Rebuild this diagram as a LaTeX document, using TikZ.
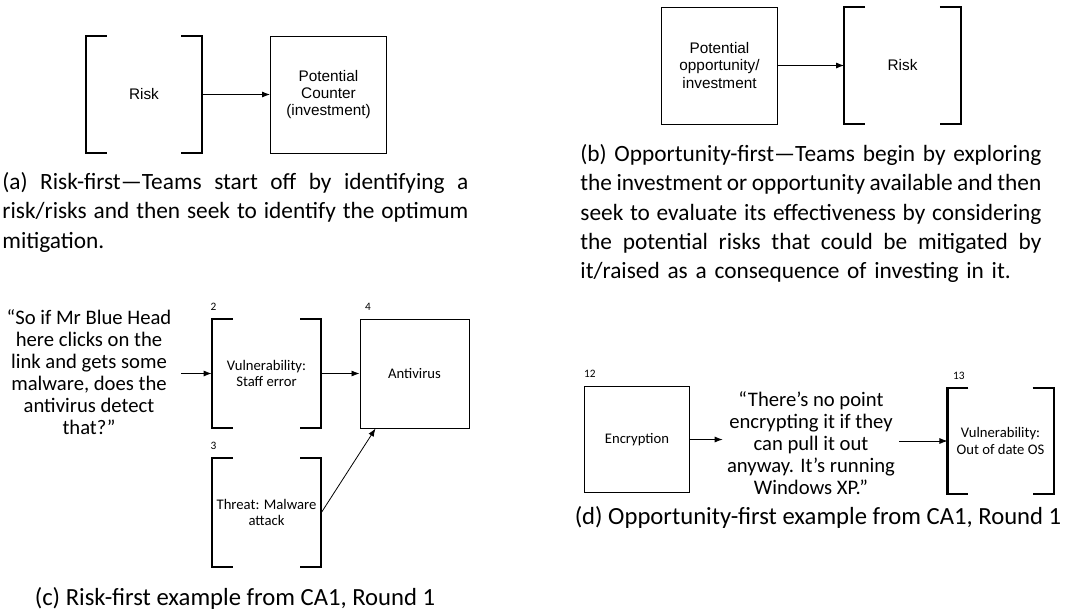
\documentclass[tikz,border=0pt]{standalone}
\usepackage{fontspec}
\setmainfont{Carlito}
\newfontfamily\helv{Liberation Sans}
\usetikzlibrary{arrows.meta,positioning,calc}
% one justified caption line, normal or tight spacing
\newcommand{\jline}[1]{\makebox[\hsize][s]{\spaceskip=.22em plus .6em minus .05em\relax #1}}
\newcommand{\jtight}[1]{\makebox[\hsize][s]{\spaceskip=.16em plus .6em minus .03em\relax #1}}

\begin{document}
\begin{tikzpicture}[x=0.75pt, y=-0.75pt, >={Latex[length=6pt,width=4.5pt]},
  line width=0.6pt,
  box/.style={draw, line width=0.75pt, inner sep=0pt, align=center},
  brkbox/.style={inner sep=0pt, align=center},
  brk/.style={line width=1.6pt},
  sqA/.style={minimum width=87pt, minimum height=87.75pt},
  sqC/.style={minimum width=81.75pt, minimum height=81.75pt},
  sqD/.style={minimum width=79pt, minimum height=79pt},
  helvlab/.style={font=\helv\fontsize{11.5}{13}\selectfont},
  lab/.style={font=\fontsize{11}{12.5}\selectfont},
  num/.style={font=\fontsize{8.5}{10}\selectfont, inner sep=0pt},
  quote/.style={align=center, inner sep=3pt, font=\fontsize{15.5}{16.5}\selectfont},
  caption/.style={inner sep=0pt, font=\fontsize{18.5}{22}\selectfont},
  justcap/.style={caption, anchor=north west, align=left, font=\fontsize{17.5}{22}\selectfont}]

\useasboundingbox (0,0) rectangle (1066,615);

% (a) risk-first
\node[brkbox, sqA, helvlab] (riskA) at (144,94.5) {Risk};
\node[box, sqA, helvlab] (counter) at (328.5,94.5) {Potential\\Counter\\(investment)};
\draw[->] (riskA) -- (counter);
\node[justcap, text width=349.5pt] (capA) at (2,172)
  {\jline{(a) Risk-first---Teams start off by identifying a}\\
   \jtight{risk/risks and then seek to identify the optimum}\\
   mitigation.};

% (b) opportunity-first
\node[box, sqA, helvlab] (opp) at (719.5,65.5) {Potential\\opportunity/\\investment};
\node[brkbox, sqA, helvlab] (riskB) at (902.5,65.5) {Risk};
\draw[->] (opp) -- (riskB);
\node[justcap, text width=345.75pt] (capB) at (580,144)
  {\jtight{(b) Opportunity-first---Teams begin by exploring}\\
   \jtight{the investment or opportunity available and then}\\
   \jtight{seek to evaluate its effectiveness by considering}\\
   \jline{the potential risks that could be mitigated by}\\
   it/raised as a consequence of investing in it.};

% (c) risk-first example
\node[quote] (blue) at (89,372) {“So if Mr Blue Head\\here clicks on the\\link and gets some\\malware, does the\\antivirus detect\\that?”};
\node[brkbox, sqC, lab] (vul) at (266.5,373.5) {Vulnerability:\\Staff error};
\node[box, sqC, lab] (av) at (414.5,373.5) {Antivirus};
\node[brkbox, sqC, lab] (thr) at (266.5,512.5) {Threat: Malware\\attack};
\node[num, above right=6pt and -1pt of vul.north west] {2};
\node[num, above right=6pt and 4pt of av.north west] {4};
\node[num, above right=6pt and -1pt of thr.north west] {3};
\draw[->] ([xshift=4pt]blue.east |- vul.west) -- (vul.west);
\draw[->] (vul) -- (av);
\draw[->] (thr.east) -- ([xshift=12pt]av.south west);
\node[caption] (capC) at (235,598) {(c) Risk-first example from CA1, Round 1};

% (d) opportunity-first example
\node[box, sqD, lab] (enc) at (637,439.5) {Encryption};
\node[quote] (xp) at (811,443) {“There’s no point\\encrypting it if they\\can pull it out\\anyway. It’s running\\Windows XP.”};
\node[brkbox, sqD, lab] (vulos) at (1000.5,441) {Vulnerability:\\Out of date OS};
\node[num, above right=6pt and 0pt of enc.north west] {12};
\node[num, above right=6pt and 4pt of vulos.north west] {13};
\draw[->] (enc.east) -- (xp.west |- enc.east);
\draw[->] (xp.east |- vulos.west) -- (vulos.west);
\node[caption] (capD) at (818,517) {(d) Opportunity-first example from CA1, Round 1};

% square brackets round the risk nodes
\foreach \n in {riskA, riskB, vul, thr, vulos} {
  \draw[brk] ($(\n.north west)+(21,0)$) -- (\n.north west) -- (\n.south west) -- ++(21,0);
  \draw[brk] ($(\n.north east)+(-21,0)$) -- (\n.north east) -- (\n.south east) -- ++(-21,0);
}

\end{tikzpicture}
\end{document}
